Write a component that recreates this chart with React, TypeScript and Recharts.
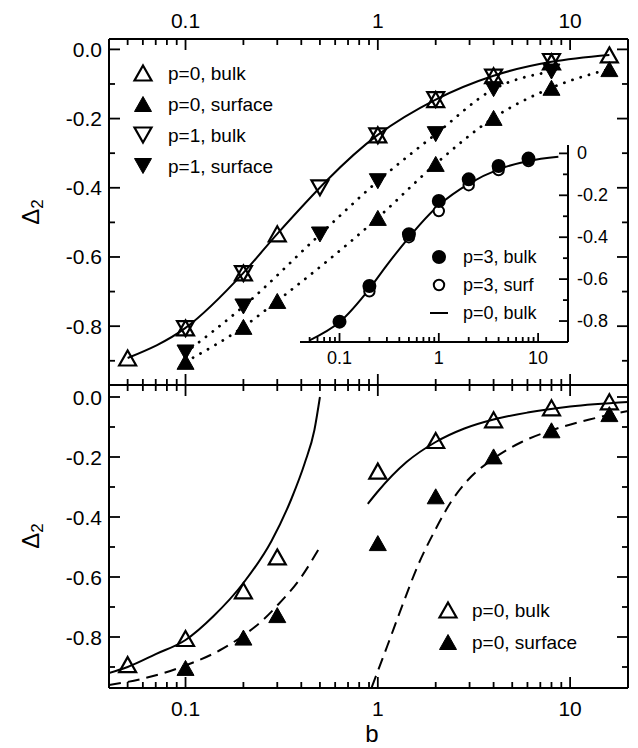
import React from "react";
import { ComposedChart, Scatter, Line, XAxis, YAxis } from "recharts";

const FONT = "'Liberation Sans', Arial, Helvetica, sans-serif";

// measured points (b, Delta_2)
const B_P0_BULK = [0.05, 0.1, 0.2, 0.3, 1, 2, 4, 8, 16];
const P0_BULK = [-0.892, -0.805, -0.646, -0.533, -0.247, -0.145, -0.076, -0.036, -0.016];
const B_P0_SURF = [0.1, 0.2, 0.3, 1, 2, 4, 8, 16];
const P0_SURF = [-0.903, -0.802, -0.727, -0.487, -0.331, -0.198, -0.111, -0.057];
const B_P1 = [0.1, 0.2, 0.5, 1, 2, 4, 8];
const P1_BULK = [-0.807, -0.648, -0.4, -0.25, -0.145, -0.08, -0.035];
const P1_SURF = [-0.876, -0.743, -0.535, -0.381, -0.245, -0.115, -0.064];
const B_P3_BULK = [0.1, 0.2, 0.5, 1, 2, 4, 8];
const P3_BULK = [-0.803, -0.633, -0.386, -0.227, -0.124, -0.06, -0.025];
const B_P3_SURF = [0.2, 0.5, 1, 2, 4, 8];
const P3_SURF = [-0.658, -0.4, -0.275, -0.152, -0.08, -0.037];

// limiting curves of the lower panel
const FIT_LO_BULK_B = [0.04, 0.05, 0.07, 0.1, 0.14, 0.2, 0.28, 0.355, 0.417, 0.468, 0.5];
const FIT_LO_BULK_V = [-0.92, -0.9, -0.857, -0.81, -0.73, -0.62, -0.48, -0.34, -0.22, -0.11, 0.0];
const FIT_LO_SURF_B = [0.04, 0.059, 0.1, 0.15, 0.2, 0.256, 0.3, 0.4, 0.5];
const FIT_LO_SURF_V = [-0.96, -0.94, -0.895, -0.845, -0.795, -0.74, -0.695, -0.6, -0.5];
const FIT_HI_BULK_B = [0.887, 1, 1.41, 2, 2.82, 4, 6, 10, 20];
const FIT_HI_BULK_V = [-0.356, -0.315, -0.217, -0.15, -0.105, -0.075, -0.052, -0.032, -0.017];
const FIT_HI_SURF_B = [0.93, 1.12, 1.35, 1.62, 2, 2.4, 2.82, 4, 5.6, 8, 12.6, 20];
const FIT_HI_SURF_V = [-0.967, -0.83, -0.69, -0.56, -0.44, -0.35, -0.29, -0.205, -0.15, -0.111, -0.075, -0.047];

const LOG_TICKS = [0.05, 0.06, 0.07, 0.08, 0.09, 0.1, 0.2, 0.3, 0.4, 0.5, 0.6, 0.7, 0.8, 0.9, 1, 2, 3, 4, 5, 6, 7, 8, 9, 10];
const LOG_MAJOR = [0.1, 1, 10];
const Y_TICKS = [0, -0.1, -0.2, -0.3, -0.4, -0.5, -0.6, -0.7, -0.8, -0.9];
const INSET_Y_TICKS = [0, -0.1, -0.2, -0.3, -0.4, -0.5, -0.6, -0.7, -0.8];

const LEGEND_TOP = ["p=0, bulk", "p=0, surface", "p=1, bulk", "p=1, surface"];
const LEGEND_INSET = ["p=3, bulk", "p=3, surf", "p=0, bulk"];
const LEGEND_BOTTOM = ["p=0, bulk", "p=0, surface"];

const pts = (bs: number[], vs: number[]) => bs.map((b, i) => ({ b, v: vs[i] }));

const AXIS = { stroke: "#000", strokeWidth: 2 };
const isMajorX = (v: number) => LOG_MAJOR.some((m) => Math.abs(v - m) < 1e-9);
const isMajorY = (v: number) => Math.round(Math.abs(v) * 10) % 2 === 0;

// tick mark + label, ticks point into the plot
function xTick(dir: number, labels: boolean, big: number, small: number, fs: number, gap: number) {
  return (p: any) => {
    const v = p.payload.value;
    const major = isMajorX(v);
    const len = major ? big : small;
    return (
      <g>
        <line x1={p.x} x2={p.x} y1={p.y} y2={p.y + dir * len} stroke="#000" strokeWidth={1.8} />
        {labels && major && (
          <text x={p.x} y={p.y - dir * gap} textAnchor="middle" dominantBaseline="central"
            fontSize={fs} fontFamily={FONT} fill="#000">{String(v)}</text>
        )}
      </g>
    );
  };
}

function yTick(dir: number, labels: boolean, big: number, small: number, fs: number, gap: number, fmt: (v: number) => string) {
  return (p: any) => {
    const v = p.payload.value;
    const major = isMajorY(v);
    const len = major ? big : small;
    return (
      <g>
        <line x1={p.x} x2={p.x + dir * len} y1={p.y} y2={p.y} stroke="#000" strokeWidth={1.8} />
        {labels && major && (
          <text x={p.x - dir * gap} y={p.y} textAnchor={dir > 0 ? "end" : "start"} dominantBaseline="central"
            fontSize={fs} fontFamily={FONT} fill="#000">{fmt(v)}</text>
        )}
      </g>
    );
  };
}

const mainFmt = (v: number) => (v === 0 ? "0.0" : v.toFixed(1));
const insetFmt = (v: number) => (v === 0 ? "0" : v.toFixed(1));

function Tri({ cx, cy, down = false, filled = false }: any) {
  const w = 8.5;
  const h = 7.5;
  const d = down ? -1 : 1;
  const p = `${cx},${cy - d * h} ${cx + w},${cy + d * h} ${cx - w},${cy + d * h}`;
  return <polygon points={p} fill={filled ? "#000" : "none"} stroke="#000" strokeWidth={filled ? 1 : 2.2} />;
}

function Dot({ cx, cy, filled = false }: any) {
  return <circle cx={cx} cy={cy} r={filled ? 6 : 5.2} fill={filled ? "#000" : "#fff"} stroke="#000" strokeWidth={2} />;
}

const triShape = (down: boolean, filled: boolean) => (p: any) => <Tri cx={p.cx} cy={p.cy} down={down} filled={filled} />;
const dotShape = (filled: boolean) => (p: any) => <Dot cx={p.cx} cy={p.cy} filled={filled} />;

// axes are 1px thick so recharts draws them; margins are reduced by that pixel
function axes(yDomain: number[], topLabels: boolean, bottomLabels: boolean) {
  const common = {
    type: "number" as const, dataKey: "b", scale: "log" as const, domain: [0.04, 20],
    allowDataOverflow: true, ticks: LOG_TICKS, interval: 0 as const, height: 1,
    tickSize: 0, tickMargin: 0, tickLine: false, axisLine: AXIS,
  };
  const ycommon = {
    type: "number" as const, dataKey: "v", domain: yDomain, allowDataOverflow: true,
    ticks: Y_TICKS, interval: 0 as const, width: 1, tickSize: 0, tickMargin: 0,
    tickLine: false, axisLine: AXIS,
  };
  return [
    <XAxis key="xb" xAxisId="b" orientation="bottom" {...common} tick={xTick(-1, bottomLabels, 11, 6, 21, 20)} />,
    <XAxis key="xt" xAxisId="t" orientation="top" {...common} tick={xTick(1, topLabels, 11, 6, 21, 19)} />,
    <YAxis key="yl" yAxisId="l" orientation="left" {...ycommon} tick={yTick(1, true, 11, 6, 21, 7, mainFmt)} />,
    <YAxis key="yr" yAxisId="r" orientation="right" {...ycommon} tick={yTick(-1, false, 11, 6, 21, 7, mainFmt)} />,
  ];
}

const ids = { xAxisId: "b", yAxisId: "l", isAnimationActive: false };
const lineBase = { ...ids, dataKey: "v", dot: false, activeDot: false, stroke: "#000", strokeWidth: 2, type: "monotone" as const };
const dotted = { strokeDasharray: "0.1 8.5", strokeLinecap: "round" as const, strokeWidth: 2.8 };

function TopPanel() {
  return (
    <ComposedChart width={638} height={400} margin={{ top: 38, right: 9, bottom: 14, left: 108 }}>
      {axes([-0.97, 0.03], true, false)}
      <Line {...lineBase} data={pts(B_P0_BULK, P0_BULK)} />
      <Line {...lineBase} {...dotted} data={pts(B_P1, P1_SURF)} />
      <Line {...lineBase} {...dotted} data={pts(B_P0_SURF, P0_SURF)} />
      <Scatter {...ids} data={pts(B_P0_BULK, P0_BULK)} shape={triShape(false, false)} />
      <Scatter {...ids} data={pts(B_P0_SURF, P0_SURF)} shape={triShape(false, true)} />
      <Scatter {...ids} data={pts(B_P1, P1_BULK)} shape={triShape(true, false)} />
      <Scatter {...ids} data={pts(B_P1, P1_SURF)} shape={triShape(true, true)} />
    </ComposedChart>
  );
}

function Inset() {
  return (
    <ComposedChart width={638} height={400} margin={{ top: 145, right: 69, bottom: 57, left: 300 }}>
      <XAxis xAxisId="b" orientation="bottom" type="number" dataKey="b" scale="log" domain={[0.04, 20]}
        allowDataOverflow ticks={LOG_TICKS} interval={0} height={1} tickSize={0} tickMargin={0}
        tickLine={false} axisLine={AXIS} tick={xTick(-1, true, 9, 5, 18, 16)} />
      <YAxis yAxisId="l" orientation="right" type="number" dataKey="v" domain={[-0.9, 0.04]}
        allowDataOverflow ticks={INSET_Y_TICKS} interval={0} width={1} tickSize={0} tickMargin={0}
        tickLine={false} axisLine={AXIS} tick={yTick(-1, true, 9, 5, 18, 9, insetFmt)} />
      <Line {...lineBase} data={pts(B_P0_BULK, P0_BULK)} />
      <Scatter {...ids} data={pts(B_P3_SURF, P3_SURF)} shape={dotShape(false)} />
      <Scatter {...ids} data={pts(B_P3_BULK, P3_BULK)} shape={dotShape(true)} />
    </ComposedChart>
  );
}

function BottomPanel() {
  const dashed = { strokeDasharray: "12 7" };
  return (
    <ComposedChart width={638} height={378} margin={{ top: 14, right: 9, bottom: 59, left: 108 }}>
      {axes([-0.97, 0.04], false, true)}
      <Line {...lineBase} data={pts(FIT_LO_BULK_B, FIT_LO_BULK_V)} />
      <Line {...lineBase} {...dashed} data={pts(FIT_LO_SURF_B, FIT_LO_SURF_V)} />
      <Line {...lineBase} data={pts(FIT_HI_BULK_B, FIT_HI_BULK_V)} />
      <Line {...lineBase} {...dashed} data={pts(FIT_HI_SURF_B, FIT_HI_SURF_V)} />
      <Scatter {...ids} data={pts(B_P0_BULK, P0_BULK)} shape={triShape(false, false)} />
      <Scatter {...ids} data={pts(B_P0_SURF, P0_SURF)} shape={triShape(false, true)} />
    </ComposedChart>
  );
}

function Overlay() {
  const txt = { fontFamily: FONT, fill: "#000", dominantBaseline: "central" as const };
  const topMarks = [
    { down: false, filled: false }, { down: false, filled: true },
    { down: true, filled: false }, { down: true, filled: true },
  ];
  return (
    <svg width={638} height={748} style={{ position: "absolute", left: 0, top: 0, pointerEvents: "none" }}>
      {LEGEND_TOP.map((t, i) => (
        <g key={t}>
          <Tri cx={143} cy={73 + i * 31} {...topMarks[i]} />
          <text x={168} y={73 + i * 31} fontSize={19} {...txt}>{t}</text>
        </g>
      ))}
      {LEGEND_INSET.map((t, i) => (
        <g key={t}>
          {i < 2 ? <Dot cx={439} cy={257 + i * 28} filled={i === 0} />
            : <line x1={430} x2={448} y1={313} y2={313} stroke="#000" strokeWidth={2} />}
          <text x={463} y={257 + i * 28} fontSize={18} {...txt}>{t}</text>
        </g>
      ))}
      {LEGEND_BOTTOM.map((t, i) => (
        <g key={t}>
          <Tri cx={448} cy={610 + i * 32} filled={i === 1} />
          <text x={472} y={610 + i * 32} fontSize={19} {...txt}>{t}</text>
        </g>
      ))}
      {[212, 536].map((cy) => (
        <text key={cy} x={30} y={cy} transform={`rotate(-90 30 ${cy})`} textAnchor="middle" fontSize={24} {...txt}>
          Δ<tspan fontSize={17} dy={7}>2</tspan>
        </text>
      ))}
      <text x={372} y={733} textAnchor="middle" fontSize={24} {...txt}>b</text>
    </svg>
  );
}

export default function App() {
  return (
    <div style={{ position: "absolute", left: 0, top: 0, width: 638, height: 748, background: "#fff" }}>
      <div style={{ position: "absolute", left: 0, top: 0 }}><TopPanel /></div>
      <div style={{ position: "absolute", left: 0, top: 370 }}><BottomPanel /></div>
      <div style={{ position: "absolute", left: 0, top: 0 }}><Inset /></div>
      <Overlay />
    </div>
  );
}
